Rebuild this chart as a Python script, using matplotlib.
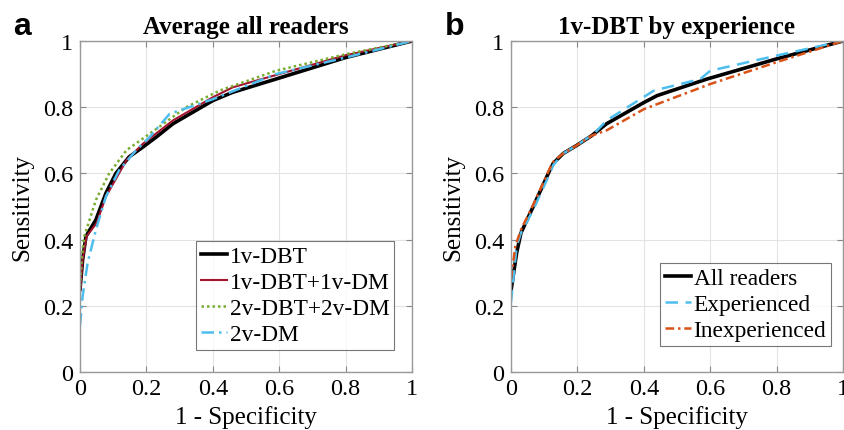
import numpy as np
import matplotlib
matplotlib.use('Agg')
import matplotlib.pyplot as plt

plt.rcParams['font.family'] = ['Liberation Serif', 'DejaVu Serif']

# panel a: average all readers
dbt1_x = [0, 0.008, 0.018, 0.048, 0.078, 0.108, 0.148, 0.19, 0.23, 0.28, 0.40, 0.46, 0.59, 0.80, 1.0]
dbt1_y = [0.25, 0.34, 0.41, 0.46, 0.54, 0.60, 0.65, 0.68, 0.71, 0.75, 0.82, 0.845, 0.885, 0.95, 1.0]

dbtdm1_x = [0, 0.008, 0.02, 0.05, 0.078, 0.14, 0.19, 0.28, 0.40, 0.46, 0.60, 0.80, 1.0]
dbtdm1_y = [0.24, 0.34, 0.41, 0.45, 0.53, 0.64, 0.69, 0.76, 0.83, 0.86, 0.90, 0.957, 1.0]

dbtdm2_x = [0, 0.005, 0.013, 0.048, 0.088, 0.14, 0.21, 0.32, 0.42, 0.59, 0.80, 1.0]
dbtdm2_y = [0.26, 0.34, 0.41, 0.52, 0.60, 0.67, 0.72, 0.80, 0.85, 0.91, 0.96, 1.0]

dm2_x = [0, 0.008, 0.023, 0.048, 0.078, 0.118, 0.169, 0.21, 0.27, 0.40, 0.59, 0.80, 1.0]
dm2_y = [0.14, 0.23, 0.33, 0.43, 0.53, 0.61, 0.67, 0.71, 0.78, 0.824, 0.90, 0.95, 1.0]

# panel b: 1v-DBT by experience
all_x = [0, 0.017, 0.03, 0.067, 0.117, 0.127, 0.157, 0.197, 0.243, 0.288, 0.40, 0.44, 0.59, 0.80, 1.0]
all_y = [0.245, 0.36, 0.42, 0.50, 0.61, 0.63, 0.66, 0.684, 0.714, 0.75, 0.814, 0.835, 0.885, 0.946, 1.0]

exp_x = [0, 0.017, 0.03, 0.067, 0.117, 0.127, 0.157, 0.197, 0.25, 0.288, 0.43, 0.57, 0.60, 0.80, 1.0]
exp_y = [0.21, 0.38, 0.42, 0.49, 0.60, 0.625, 0.66, 0.684, 0.72, 0.76, 0.85, 0.885, 0.91, 0.956, 1.0]

inexp_x = [0, 0.013, 0.03, 0.067, 0.117, 0.127, 0.157, 0.197, 0.243, 0.288, 0.40, 0.60, 0.80, 1.0]
inexp_y = [0.28, 0.38, 0.43, 0.505, 0.615, 0.635, 0.66, 0.684, 0.714, 0.73, 0.794, 0.87, 0.936, 1.0]

ticks = [0, 0.2, 0.4, 0.6, 0.8, 1]
tick_labels = ['0', '0.2', '0.4', '0.6', '0.8', '1']

fig = plt.figure(figsize=(8.44, 4.31), dpi=100)
ax1 = fig.add_axes([80 / 844, 58 / 431, 332 / 844, 331 / 431])
ax2 = fig.add_axes([511 / 844, 58 / 431, 332 / 844, 331 / 431])

ax1.plot(dbt1_x, dbt1_y, color='black', lw=2.6, label='1v-DBT')
ax1.plot(dbtdm1_x, dbtdm1_y, color='#a2142f', lw=1.5, label='1v-DBT+1v-DM')
ax1.plot(dbtdm2_x, dbtdm2_y, color='#77ac30', lw=1.8, ls=(0, (1, 1.2)), label='2v-DBT+2v-DM')
ax1.plot(dm2_x, dm2_y, color='#4dbeee', lw=1.8, ls=(0, (5, 2, 1, 2)), label='2v-DM')

ax2.plot(all_x, all_y, color='black', lw=2.6, label='All readers')
ax2.plot(exp_x, exp_y, color='#4dbeee', lw=1.8, ls=(0, (5, 3)), label='Experienced')
ax2.plot(inexp_x, inexp_y, color='#d95319', lw=1.8, ls=(0, (3.5, 1.5, 1, 1.5)), label='Inexperienced')

for ax, title in [(ax1, 'Average all readers'), (ax2, '1v-DBT by experience')]:
    ax.set_xlim(0, 1)
    ax.set_ylim(0, 1)
    ax.set_xticks(ticks)
    ax.set_yticks(ticks)
    ax.set_xticklabels(tick_labels)
    ax.set_yticklabels(tick_labels)
    ax.grid(True, color='#e3e3e3', lw=0.8)
    ax.set_axisbelow(True)
    ax.tick_params(direction='in', top=True, right=True, labelsize=17.5, length=4,
                   color='#888888')
    ax.tick_params(axis='x', pad=4)
    ax.tick_params(axis='y', pad=5)
    for s in ax.spines.values():
        s.set_color('#999999')
        s.set_linewidth(1.0)
    ax.set_title(title, fontsize=18, fontweight='bold', pad=6)
    ax.set_xlabel('1 - Specificity', fontsize=18, labelpad=5)
    ax.set_ylabel('Sensitivity', fontsize=18, labelpad=7)

leg_kw = dict(fontsize=16.8, frameon=True, fancybox=False, handlelength=1.1,
              handletextpad=0.12, borderpad=0.2, labelspacing=0.2,
              edgecolor='#555555')
leg1 = ax1.legend(loc='lower right', bbox_to_anchor=(394 / 844, 80 / 431),
                  bbox_transform=fig.transFigure, borderaxespad=0, **leg_kw)
leg1.get_frame().set_linewidth(0.8)
leg2 = ax2.legend(loc='lower right', bbox_to_anchor=(831 / 844, 84 / 431),
                  bbox_transform=fig.transFigure, borderaxespad=0, **leg_kw)
leg2.get_frame().set_linewidth(0.8)

fig.text(13 / 844, 1 - 35 / 431, 'a', fontsize=23, fontweight='bold', family='Liberation Sans')
fig.text(445 / 844, 1 - 35 / 431, 'b', fontsize=23, fontweight='bold', family='Liberation Sans')

fig.savefig('out.png', dpi=100)
